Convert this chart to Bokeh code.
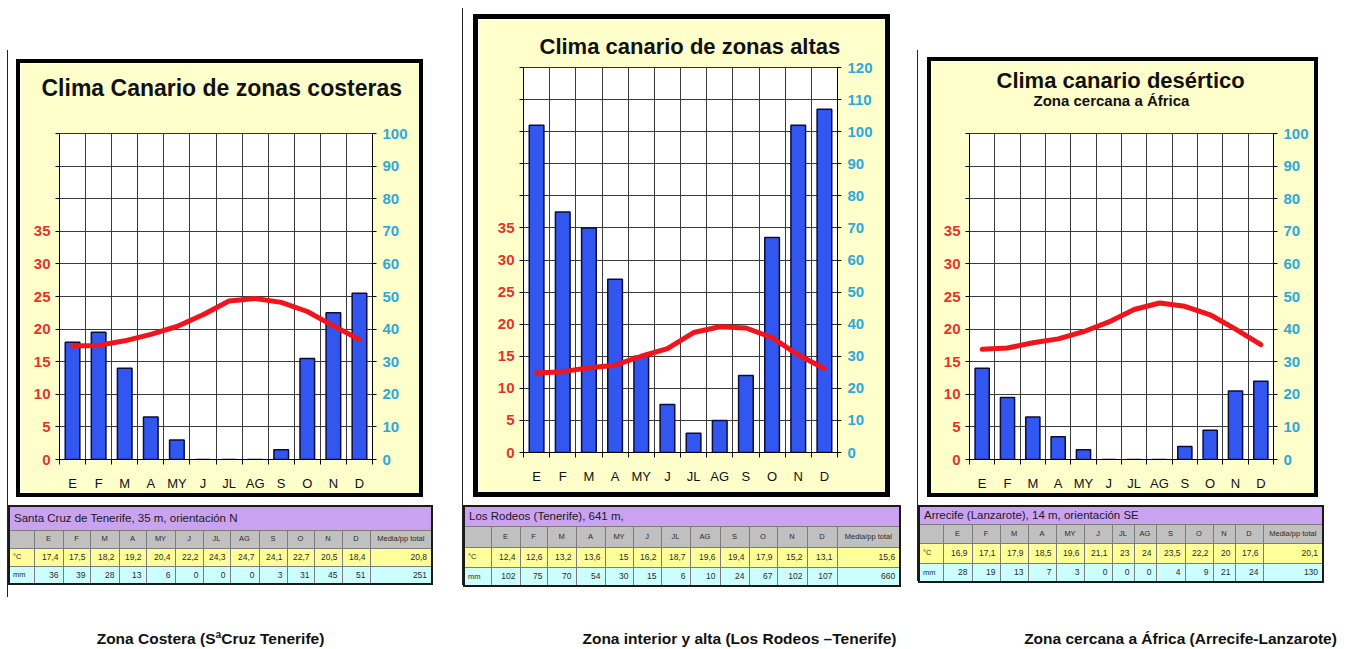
from bokeh.plotting import figure
from bokeh.models import Range1d, LinearAxis, FixedTicker, Title, Div
from bokeh.layouts import row, column
from bokeh.embed import file_html
from bokeh.resources import INLINE
from bokeh.core.properties import value

FONT = "Liberation Sans"

# ---------------- data ----------------
months = ["E", "F", "M", "A", "MY", "J", "JL", "AG", "S", "O", "N", "D"]

costera_temp = [17.4, 17.5, 18.2, 19.2, 20.4, 22.2, 24.3, 24.7, 24.1, 22.7, 20.5, 18.4]
costera_prec = [36, 39, 28, 13, 6, 0, 0, 0, 3, 31, 45, 51]
costera_media = 20.8
costera_total = 251

alta_temp = [12.4, 12.6, 13.2, 13.6, 15, 16.2, 18.7, 19.6, 19.4, 17.9, 15.2, 13.1]
alta_prec = [102, 75, 70, 54, 30, 15, 6, 10, 24, 67, 102, 107]
alta_media = 15.6
alta_total = 660

desert_temp = [16.9, 17.1, 17.9, 18.5, 19.6, 21.1, 23, 24, 23.5, 22.2, 20, 17.6]
desert_prec = [28, 19, 13, 7, 3, 0, 0, 0, 4, 9, 21, 24]
desert_media = 20.1
desert_total = 130

stations = ["Santa Cruz de Tenerife, 35 m, orientación N",
            "Los Rodeos (Tenerife), 641 m,",
            "Arrecife (Lanzarote), 14 m, orientación SE"]
captions = ["Zona Costera (SªCruz Tenerife)",
            "Zona interior y alta (Los Rodeos –Tenerife)",
            "Zona cercana a África (Arrecife-Lanzarote)"]

# ---------------- styles ----------------
YELLOW_BG = "#FFFFCC"
BAR = "#3157F0"
LINE = "#F0141C"
RED = "#E3352B"
CYAN = "#2CA9D8"
PURPLE = "#C9A2F2"
GRAY = "#C0C0C0"
TYEL = "#FFFF99"
TCYAN = "#CCFFFF"
TXT = "#2a2a2a"


def fmt(v):
    if float(v).is_integer():
        return str(int(v))
    return f"{v:.1f}".replace(".", ",")


def style_axis(ax, color, size):
    ax.major_label_text_font = FONT
    ax.major_label_text_font_style = "bold"
    ax.major_label_text_font_size = size
    ax.major_label_text_color = color
    ax.major_tick_out = 4
    ax.major_tick_in = 0
    ax.minor_tick_out = 0
    ax.minor_tick_in = 0
    ax.axis_line_color = "black"
    ax.major_tick_line_color = "black"
    ax.major_label_standoff = 5


def make_chart(temp, prec, pmax, w, h, bl, br, bt, bb, titles, bpx):
    x = [i + 0.5 for i in range(len(months))]
    p = figure(width=w, height=h, x_range=Range1d(0, 12), y_range=Range1d(0, pmax),
               y_axis_location="right", output_backend="svg", toolbar_location=None,
               min_border_left=bl, min_border_right=br, min_border_top=bt, min_border_bottom=bb,
               background_fill_color="white", border_fill_color=YELLOW_BG,
               outline_line_color="#333333",
               styles={"box-shadow": f"0 0 0 {bpx}px #000000"})
    p.title.visible = False
    p.extra_y_ranges = {"temp": Range1d(0, pmax / 2)}

    ra = p.yaxis[0]
    ra.ticker = FixedTicker(ticks=list(range(0, pmax + 1, 10)))
    style_axis(ra, CYAN, "15px")
    ra.major_label_standoff = 6

    la = LinearAxis(y_range_name="temp",
                    ticker=FixedTicker(ticks=list(range(0, pmax // 2 + 1, 5))))
    la.major_label_overrides = {t: "" for t in range(40, pmax // 2 + 1, 5)}
    style_axis(la, RED, "15px")
    p.add_layout(la, "left")

    xa = p.xaxis[0]
    xa.ticker = FixedTicker(ticks=x, minor_ticks=list(range(13)))
    xa.major_label_overrides = {xi: m for xi, m in zip(x, months)}
    xa.major_label_text_font = FONT
    xa.major_label_text_font_size = "13px"
    xa.major_label_text_color = "#111111"
    xa.major_tick_line_color = None
    xa.major_tick_out = 0
    xa.major_tick_in = 0
    xa.minor_tick_in = 0
    xa.minor_tick_out = 5
    xa.minor_tick_line_color = "black"
    xa.axis_line_color = "black"
    xa.major_label_standoff = 11

    p.xgrid.ticker = FixedTicker(ticks=list(range(13)))
    p.ygrid.ticker = FixedTicker(ticks=list(range(0, pmax + 1, 10)))
    p.grid.grid_line_color = "#3a3a3a"
    p.grid.grid_line_width = 1

    p.vbar(x=x, top=prec, bottom=0, width=0.56, fill_color=BAR,
           line_color="#0c0c3a", line_width=1.5)
    p.line(x=x, y=temp, y_range_name="temp", line_color=LINE, line_width=5,
           line_join="round", line_cap="round")

    # titles stacked from the frame outward
    for spec in titles:
        t = Title(text=spec["text"], text_font=FONT, text_font_size=spec["size"],
                  text_font_style="bold", text_color="#111111",
                  align=spec.get("align", "left"), offset=spec.get("offset", 0),
                  standoff=spec["standoff"])
        p.add_layout(t, "above")
    return p


def table_div(station, temp, prec, media, total, col_w, row_h, margin):
    W = sum(col_w)
    H = sum(row_h)
    base = ("border:1px solid #7c7c7c;padding:0;white-space:nowrap;overflow:hidden;"
            "line-height:1;")
    cols = "".join(f'<col style="width:{w}px">' for w in col_w)
    h0, h1, h2, h3 = row_h
    rows = [f'<tr style="height:{h0}px"><td colspan="{len(col_w)}" style="{base}'
            f'background:{PURPLE};font-size:11.5px;color:#1a1a1a;padding-left:4px;'
            f'text-align:left;">{station}</td></tr>']
    heads = "".join(f'<td style="{base}background:{GRAY};text-align:center;">{m}</td>'
                    for m in months + ["Media/pp total"])
    rows.append(f'<tr style="height:{h1}px;font-size:7.5px">'
                f'<td style="{base}background:{GRAY}"></td>{heads}</tr>')
    tv = "".join(f'<td style="{base}background:{TYEL};text-align:right;padding-right:4px;">'
                 f'{fmt(v)}</td>' for v in list(temp) + [media])
    rows.append(f'<tr style="height:{h2}px;font-size:8.5px">'
                f'<td style="{base}background:{TYEL};font-size:7.5px;padding-left:3px;">°C</td>'
                f'{tv}</tr>')
    pv = "".join(f'<td style="{base}background:{TCYAN};text-align:right;padding-right:4px;">'
                 f'{fmt(v)}</td>' for v in list(prec) + [total])
    rows.append(f'<tr style="height:{h3}px;font-size:8.5px">'
                f'<td style="{base}background:{TCYAN};font-size:7.5px;padding-left:3px;">mm</td>'
                f'{pv}</tr>')
    html = (f'<table style="border-collapse:collapse;table-layout:fixed;width:{W}px;'
            f'height:{H}px;font-family:\'Liberation Sans\',Arial,sans-serif;color:{TXT};'
            f'border:2px solid #1a1a1a;">{cols}{"".join(rows)}</table>')
    return Div(text=html, width=W, height=H, margin=margin)


# chart boxes (inner size; black frame drawn outside as a shadow)
c1 = make_chart(costera_temp, costera_prec, 100, 399, 430, 39, 47, 70, 34,
                [{"text": " ", "size": "2px", "standoff": 29},
                 {"text": "Clima Canario de zonas costeras", "size": "23px", "standoff": 0,
                  "offset": -18}], 4)
c2 = make_chart(alta_temp, alta_prec, 120, 407, 473, 45, 48, 48, 40,
                [{"text": "Clima canario de zonas altas", "size": "22px", "standoff": 17,
                  "offset": 16}], 5)
c3 = make_chart(desert_temp, desert_prec, 100, 383, 432, 38, 41, 72, 32,
                [{"text": " ", "size": "2px", "standoff": 21},
                 {"text": "Zona cercana a África", "size": "15px", "standoff": 0, "offset": 64},
                 {"text": "Clima canario desértico", "size": "22px", "standoff": -6,
                  "offset": 27}], 4)

t1 = table_div(stations[0], costera_temp, costera_prec, costera_media, costera_total,
               [25, 29, 27, 29, 27, 29, 28, 27, 29, 28, 27, 28, 28, 62], [24, 18, 18, 18],
               (12, 0, 14, 0))
t2 = table_div(stations[1], alta_temp, alta_prec, alta_media, alta_total,
               [27, 29, 27, 29, 29, 28, 28, 29, 30, 29, 28, 30, 30, 63], [20, 21, 20, 19],
               (13, 0, 0, 0))
t3 = table_div(stations[2], desert_temp, desert_prec, desert_media, desert_total,
               [24, 29, 28, 28, 28, 28, 28, 22, 22, 29, 28, 22, 28, 60], [18, 19, 20, 19],
               (12, 0, 0, 0))

c1.margin = (13, 0, 0, 12)
c2.margin = (11, 0, 0, 15)
c3.margin = (11, 0, 0, 13)

shadow = {"box-shadow": "-1px 0 0 0 #222222"}
w1 = column(c1, t1, spacing=0, margin=(50, 0, 27, 8), styles=shadow)
w2 = column(c2, t2, spacing=0, margin=(8, 0, 0, 32), styles=shadow)
w3 = column(c3, t3, spacing=0, margin=(50, 0, 0, 19), styles=shadow)

cap = figure(width=1352, height=25, x_range=Range1d(0, 1352), y_range=Range1d(0, 25),
             output_backend="svg", toolbar_location=None, min_border=0,
             x_axis_type=None, y_axis_type=None, outline_line_color=None)
cap.grid.visible = False
cap.text(x=[210, 739, 1180], y=[11, 11, 11], text=captions, text_font=value(FONT),
         text_font_style="bold", text_font_size="15.5px", text_color="#111111",
         text_align="center", text_baseline="middle")

root = column(row(w1, w2, w3, spacing=0), cap, spacing=0)

open("out.html", "w").write(file_html(root, INLINE))
